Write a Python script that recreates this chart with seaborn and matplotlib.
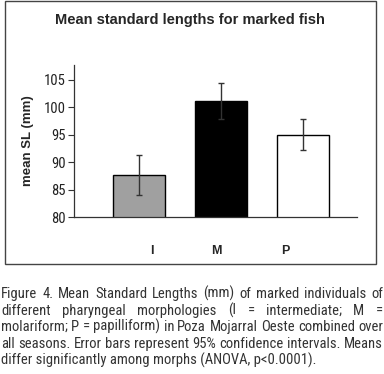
import pandas as pd
import seaborn as sns
import matplotlib.pyplot as plt
from matplotlib.patches import Rectangle

# data
morphs = ['I', 'M', 'P']
mean_sl = [87.7, 101.2, 95.0]
ci95 = [3.6, 3.3, 2.8]
bar_colors = ['#a0a0a0', '#000000', '#ffffff']
label_shift = [0.16, -0.05, -0.21]   # the I/M/P labels sit off-centre in the original

title = 'Mean standard lengths for marked fish'
ylabel = 'mean SL (mm)'
caption = [
    'Figure 4. Mean Standard Lengths (mm) of marked individuals of',
    'different pharyngeal morphologies (I = intermediate; M =',
    'molariform; P = papilliform) in Poza Mojarral Oeste combined over',
    'all seasons. Error bars represent 95% confidence intervals. Means',
    'differ significantly among morphs (ANOVA, p<0.0001).',
]

sns.set_theme(style='white')
plt.rcParams['font.family'] = ['Liberation Sans', 'DejaVu Sans']
narrow = ['Roboto Condensed', 'DejaVu Sans']

df = pd.DataFrame({'morph': morphs, 'sl': mean_sl})

W, H = 384, 374
fig = plt.figure(figsize=(W / 100, H / 100), dpi=100)
ax = fig.add_axes([74 / W, 1 - 217 / H, 283 / W, 152 / H])

sns.barplot(data=df, x='morph', y='sl', hue='morph', palette=bar_colors,
            order=morphs, errorbar=None, width=0.63, edgecolor='black',
            linewidth=1.0, legend=False, ax=ax)
ax.errorbar(range(len(morphs)), mean_sl, yerr=ci95, fmt='none',
            ecolor='#333333', elinewidth=1.0, capsize=2.5, capthick=1.0)

ax.set_ylim(80, 107.7)
ax.set_xlim(-0.79, 2.66)
ax.set_yticks([80, 85, 90, 95, 100, 105])
ax.set_yticklabels(['80', '85', '90', '95', '100', '105'], family=narrow, fontsize=10.5,
                   color='#222222')
ax.set_xticks([i + s for i, s in enumerate(label_shift)])
ax.set_xticklabels(morphs, fontweight='bold', fontsize=9)
ax.tick_params(axis='x', length=0, pad=20)
ax.tick_params(axis='y', length=4, width=0.8, direction='out', left=True, pad=2,
               color='#333333')
ax.set_xlabel('')
ax.set_ylabel(ylabel, fontweight='bold', fontsize=9.5, labelpad=7)
for s in ['top', 'right']:
    ax.spines[s].set_visible(False)
for s in ['left', 'bottom']:
    ax.spines[s].set_color('#333333')
    ax.spines[s].set_linewidth(0.9)

fig.text(190 / W, 1 - 20 / H, title, ha='center', va='center', fontweight='bold',
         fontsize=10.5)

# box around the chart area
fig.patches.append(Rectangle((5 / W, 1 - 264 / H), 371 / W, 263 / H,
                             transform=fig.transFigure, fill=False,
                             edgecolor='#444444', linewidth=1.0))

# justified caption
fig.canvas.draw()
renderer = fig.canvas.get_renderer()
probe = fig.text(0, 0, caption[-1], family=narrow, fontsize=10)
size = 10 * 312 / probe.get_window_extent(renderer).width
probe.remove()

x0, x1 = 1, 383
baselines = [298, 315, 331, 348, 365]
for i, line in enumerate(caption):
    words = line.split(' ')
    y = 1 - baselines[i] / H
    if i == len(caption) - 1:
        fig.text(x0 / W, y, line, ha='left', va='baseline', family=narrow, fontsize=size,
                 color='#333333')
        continue
    texts = [fig.text(0, y, w, ha='left', va='baseline', family=narrow, fontsize=size,
                      color='#333333') for w in words]
    widths = [t.get_window_extent(renderer).width for t in texts]
    gap = (x1 - x0 - sum(widths)) / (len(words) - 1)
    x = x0
    for t, w in zip(texts, widths):
        t.set_x(x / W)
        x += w + gap

fig.savefig('out.png', dpi=100)
